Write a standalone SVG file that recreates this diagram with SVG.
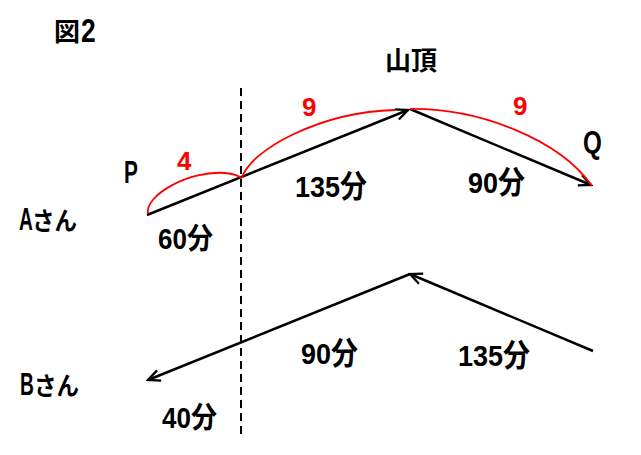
<svg xmlns="http://www.w3.org/2000/svg" width="641" height="455" viewBox="0 0 641 455">
<defs>
<style>
.t{font-family:"Liberation Sans","Noto Sans CJK JP",sans-serif;font-weight:bold;fill:#000}
.r{font-family:"Liberation Sans","Noto Sans CJK JP",sans-serif;font-weight:bold;fill:#ff0000}
.ln{stroke:#000;stroke-width:2.5;fill:none}
.arc{stroke:#ff0000;stroke-width:1.8;fill:none}
</style>
<marker id="ah" viewBox="-14 -7 16 14" refX="0" refY="0" markerWidth="16" markerHeight="14" markerUnits="userSpaceOnUse" orient="auto">
<path d="M-12,-5.5 L0,0 L-12,5.5" stroke="#000" stroke-width="2.3" fill="none"/>
</marker>
</defs>
<rect width="641" height="455" fill="#fff"/>
<g id="connectors">
<line x1="241" y1="88" x2="241" y2="436" stroke="#000" stroke-width="2" stroke-dasharray="8,5"/>
<path class="ln" d="M147,215 L408,110" marker-end="url(#ah)"/>
<path class="ln" d="M410,109 L591,185" marker-end="url(#ah)"/>
<path class="ln" d="M593,351 L410,274" marker-end="url(#ah)"/>
<path class="ln" d="M410,274 L148,380" marker-end="url(#ah)"/>
<path class="arc" d="M148,213 C145,195 190,170 225,173 C235,174 239,176 241,178"/>
<path class="arc" d="M242,178 C250,150 320,112 395,110"/>
<path class="arc" d="M410,109 C480,108 560,140 592,186"/>
</g>
<g id="title">
<text class="t" x="54" y="41" font-size="26">図</text>
<text class="t" transform="translate(81,42) scale(0.8,1)" font-size="33">2</text>
</g>
<g id="summit"><text class="t" x="385" y="70" font-size="26">山頂</text></g>
<g id="P"><text class="t" transform="translate(124,183) scale(0.65,1)" font-size="32">P</text></g>
<g id="Q"><text class="t" transform="translate(583,153) scale(0.78,1)" font-size="31">Q</text></g>
<g id="A">
<text class="t" transform="translate(19,230) scale(0.6,1)" font-size="32">A</text>
<text class="t" transform="translate(32,230) scale(0.9,1)" font-size="25">さん</text>
</g>
<g id="B">
<text class="t" transform="translate(20,395) scale(0.6,1)" font-size="32">B</text>
<text class="t" transform="translate(34,395) scale(0.9,1)" font-size="25">さん</text>
</g>
<g id="labels">
<text class="t" transform="translate(295,197) scale(1,1.12)" font-size="27">135分</text>
<text class="t" transform="translate(468,193) scale(1,1.12)" font-size="27">90分</text>
<text class="t" transform="translate(158,249) scale(1,1.12)" font-size="26">60分</text>
<text class="t" transform="translate(301,364) scale(1,1.12)" font-size="27">90分</text>
<text class="t" transform="translate(458,366) scale(1,1.12)" font-size="27">135分</text>
<text class="t" transform="translate(162,428) scale(1,1.12)" font-size="26">40分</text>
<text class="r" x="177" y="170" font-size="26">4</text>
<text class="r" x="302" y="116" font-size="26">9</text>
<text class="r" x="513" y="115" font-size="26">9</text>
</g>
</svg>
